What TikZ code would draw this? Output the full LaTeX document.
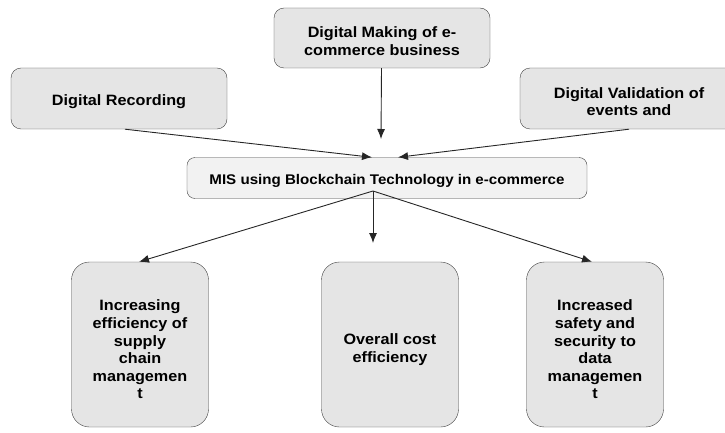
\documentclass[tikz,border=0pt]{standalone}
\usepackage{fontspec}
\setmainfont{Liberation Sans}[FakeStretch=1.08]
\usepackage{tikz}
\usetikzlibrary{arrows.meta}

\begin{document}
\begin{tikzpicture}[x=1pt,y=-1pt,
  box/.style={rectangle,draw=black!75,fill=black!10,rounded corners=10pt},
  tall/.style={box,rounded corners=18pt,minimum width=137pt,minimum height=165pt},
  txt/.style={align=center,font=\bfseries\fontsize{15}{17.6}\selectfont,inner sep=0pt,yshift=-3pt},
  arr/.style={-{Latex[length=10pt,width=8pt]},black!85,line width=0.9pt}]
\useasboundingbox (0,0) rectangle (725,433);
\node (making)     at (382,38)    [box,minimum width=216pt,minimum height=60pt,
                                   label={[txt]center:Digital Making of e-\\commerce business}] {};
\node (recording)  at (119,98.5)  [box,minimum width=216pt,minimum height=61pt,
                                   label={[txt]center:Digital Recording}] {};
\node (validation) at (629,98.5)  [box,minimum width=218pt,minimum height=61pt,
                                   label={[txt]center:Digital Validation of\\events and}] {};
\node (mis)        at (387,178)   [box,fill=black!5,rounded corners=8pt,minimum width=400pt,minimum height=41pt,
                                   label={[txt,font=\bfseries\fontsize{14}{16}\selectfont]center:MIS using Blockchain Technology in e-commerce}] {};
\node (supply)     at (140,344.5) [tall,label={[txt,yshift=-2pt]center:Increasing\\efficiency of\\supply\\chain\\managemen\\t}] {};
\node (cost)       at (390,344.5) [tall,label={[txt,yshift=-2pt]center:Overall cost\\efficiency}] {};
\node (safety)     at (595,344.5) [tall,label={[txt,yshift=-2pt]center:Increased\\safety and\\security to\\data\\managemen\\t}] {};
\coordinate (misTop)  at (381,139);
\coordinate (apex)    at (373,191);
\coordinate (costTip) at (373,243);
\draw [arr] ([xshift=-0.5pt]making.south) to (misTop);
\draw [arr] ([xshift=6pt]recording.south) to ([xshift=-15pt]mis.north);
\draw [arr] (validation.south) to ([xshift=11pt]mis.north);
\draw [arr] (apex) to ([xshift=-1pt]supply.north);
\draw [arr] (apex) to (costTip);
\draw [arr] (apex) to ([xshift=-3pt]safety.north);
\end{tikzpicture}
\end{document}
